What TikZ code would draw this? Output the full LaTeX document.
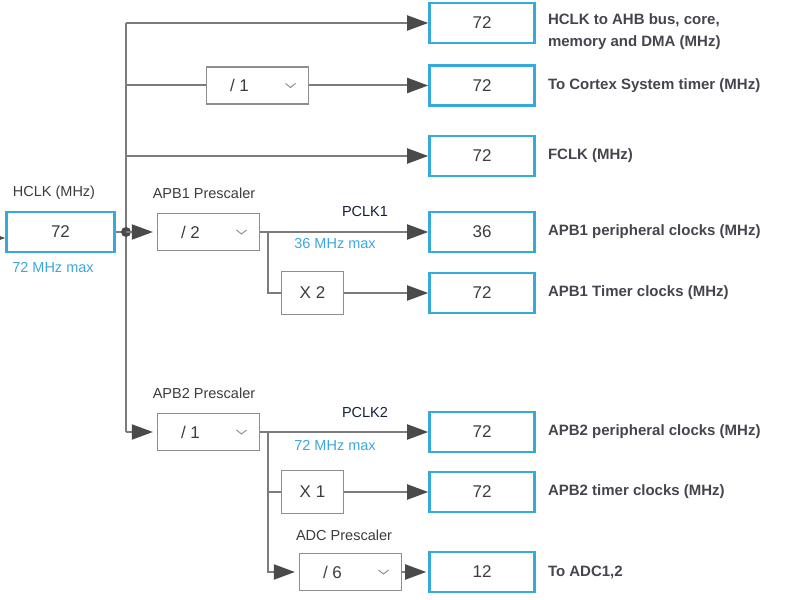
\documentclass[tikz,border=0pt]{standalone}
\usepackage{fontspec}
\setmainfont{Liberation Sans}
\usetikzlibrary{arrows.meta,positioning,calc}

\definecolor{hblue}{HTML}{36A9DD}
\definecolor{maxblue}{HTML}{3AA8E0}
\definecolor{wiregray}{HTML}{7C7C7C}
\definecolor{tipgray}{HTML}{4A4A4A}
\definecolor{boxgray}{HTML}{8E8E8E}
\definecolor{txt}{HTML}{3C3C3C}
\definecolor{desctxt}{HTML}{45454F}
\definecolor{pclktxt}{HTML}{14203A}

\newcommand\clkfont{\fontsize{17}{20}\selectfont}
\newcommand\tagfont{\fontsize{14.5}{17}\selectfont}
\newcommand\descfont{\fontsize{15}{22}\selectfont\bfseries}

\begin{document}
\begin{tikzpicture}[
    x=1pt, y=-1pt,
    clkbox/.style={rectangle, draw=hblue, line width=2.6pt, minimum width=105pt, minimum height=40pt, font=\clkfont, text=txt},
    dropbox/.style={rectangle, draw=boxgray, line width=1.2pt, minimum width=102pt, minimum height=37pt, font=\clkfont, text=txt,
        path picture={\draw[boxgray, line width=1pt] ([xshift=-23pt,yshift=2pt]path picture bounding box.east) -- ++(5pt,-4pt) -- ++(5pt,4pt);}},
    mulbox/.style={rectangle, draw=boxgray, line width=1.2pt, minimum width=62pt, minimum height=43pt, font=\clkfont, text=txt},
    tag/.style={inner sep=0pt, font=\tagfont, text=txt},
    maxtag/.style={inner sep=0pt, font=\tagfont, text=maxblue},
    desc/.style={inner sep=0pt, font=\descfont, text=desctxt, align=left},
    wire/.style={draw=wiregray, line width=2pt},
    arrow/.style={wire, -{Triangle[length=21pt,width=15pt,color=tipgray]}},
    gap/.style={shorten >=4pt}
]
\useasboundingbox (0,0) rectangle (802,599);

% HCLK source
\node[clkbox, minimum width=108pt] (hclk) at (60.5,232) {72};
\node[tag] (hclklbl) at (54,193) {HCLK (MHz)};
\node[maxtag] (hclkmax) at (53,268) {72 MHz max};
\coordinate (src) at (-16,238);
\draw[arrow] (src) -- (src -| hclk.west);

% Bus
\coordinate (bus) at (126,0);
\coordinate (hub) at (bus |- hclk);

% Output boxes
\node[clkbox] (out1) at (482,23) {72};
\node[clkbox] (out2) at (482,85.5) {72};
\node[clkbox] (out3) at (482,156) {72};
\node[clkbox] (out4) at (482,232) {36};
\node[clkbox] (out5) at (482,293) {72};
\node[clkbox] (out6) at (482,432) {72};
\node[clkbox] (out7) at (482,492) {72};
\node[clkbox] (out8) at (482,572) {12};

% Output descriptions
\node[desc, right=12pt of out1, yshift=-8.5pt] (desc1) {HCLK to AHB bus, core,\\memory and DMA (MHz)};
\node[desc, right=12pt of out2] (desc2) {To Cortex System timer (MHz)};
\node[desc, right=12pt of out3] (desc3) {FCLK (MHz)};
\node[desc, right=12pt of out4] (desc4) {APB1 peripheral clocks (MHz)};
\node[desc, right=12pt of out5] (desc5) {APB1 Timer clocks (MHz)};
\node[desc, right=12pt of out6] (desc6) {APB2 peripheral clocks (MHz)};
\node[desc, right=12pt of out7] (desc7) {APB2 timer clocks (MHz)};
\node[desc, right=12pt of out8] (desc8) {To ADC1,2};

% Prescalers and multipliers
\node[dropbox] (systick) at (257.5,85.5) {/ 1\hspace*{36pt}};
\node[dropbox] (apb1) at (208.5,232) {/ 2\hspace*{36pt}};
\node[tag] (apb1lbl) at (204,193) {APB1 Prescaler};
\node[mulbox] (x2) at (312.5,293) {X 2};
\node[dropbox] (apb2) at (208.5,432) {/ 1\hspace*{36pt}};
\node[tag] (apb2lbl) at (204,393) {APB2 Prescaler};
\node[mulbox] (x1) at (312.5,492) {X 1};
\node[dropbox] (adc) at (350.5,572) {/ 6\hspace*{36pt}};
\node[tag] (adclbl) at (344,535) {ADC Prescaler};

% PCLK tags
\node[tag, text=pclktxt] (pclk1) at (365,212) {PCLK1};
\node[maxtag] (pclk1max) at (335,244) {36 MHz max};
\node[tag, text=pclktxt] (pclk2) at (365,413) {PCLK2};
\node[maxtag] (pclk2max) at (335,446) {72 MHz max};

% Connectors
\draw[wire] (bus |- out1) -- (bus |- apb2);
\draw[wire] (hclk) -- (hub);
\fill[tipgray] (hub) circle (5pt);
\draw[arrow] (bus |- out1) -- (out1.west);
\draw[wire] (bus |- systick) -- (systick.west);
\draw[arrow] (systick) -- (out2);
\draw[arrow] (bus |- out3) -- (out3.west);
\draw[arrow, gap] (hub) -- (apb1);
\draw[arrow] (apb1) -- (out4);
\coordinate (tap1) at ($(apb1.east)+(8,0)$);
\draw[wire] (tap1) |- (x2);
\draw[arrow] (x2) -- (out5);
\draw[arrow, gap] (bus |- apb2) -- (apb2);
\draw[arrow] (apb2) -- (out6);
\coordinate (tap2) at ($(apb2.east)+(8,0)$);
\draw[wire] (tap2) |- (x1);
\draw[arrow] (x1) -- (out7);
\draw[arrow, gap] (tap2) |- (adc);
\draw[arrow, shorten >=2pt] (adc) -- (out8);

\end{tikzpicture}
\end{document}
